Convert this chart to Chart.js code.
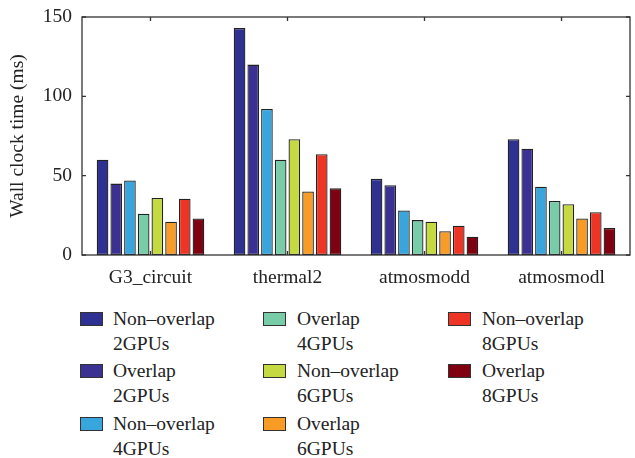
<!DOCTYPE html>
<html>
<head>
<meta charset="utf-8">
<script src="https://cdn.jsdelivr.net/npm/chart.js@4/dist/chart.umd.min.js"></script>
<style>
  html, body { margin: 0; padding: 0; background: #fff; }
  #wrap { position: relative; width: 635px; height: 458px; overflow: hidden; font-family: "Liberation Serif", "Times New Roman", serif; color: #222; }
  #box { position: absolute; left: 0; top: 0; width: 635px; height: 300px; }
  .item { position: absolute; font-size: 19.5px; line-height: 25px; }
  .sw { position: absolute; width: 21px; height: 12px; border: 1px solid #333; }
</style>
</head>
<body>
<div id="wrap">
  <div id="box"><canvas id="WallClockChart"></canvas></div>
  <div id="legend"></div>
</div>
<script>
// matrices and series (ms)
var Matrices = ["G3_circuit", "thermal2", "atmosmodd", "atmosmodl"];
var NonOverlap2 = [60, 143, 48, 73];
var Overlap2    = [45, 120, 44, 67];
var NonOverlap4 = [47, 92, 28, 43];
var Overlap4    = [26, 60, 22, 34];
var NonOverlap6 = [36, 73, 21, 32];
var Overlap6    = [21, 40, 15, 23];
var NonOverlap8 = [35.5, 63.5, 18.5, 27];
var Overlap8    = [23, 42, 11.5, 17];
var SeriesNames = [["Non\u2013overlap", "2GPUs"], ["Overlap", "2GPUs"], ["Non\u2013overlap", "4GPUs"],
                   ["Overlap", "4GPUs"], ["Non\u2013overlap", "6GPUs"], ["Overlap", "6GPUs"],
                   ["Non\u2013overlap", "8GPUs"], ["Overlap", "8GPUs"]];
var YTicks = [0, 50, 100, 150];

var Colours = ['#2e3192', '#3b3192', '#38a6dc', '#79cca8', '#c5da41', '#f89c26', '#ee3425', '#7e0011'];
var SeriesData = [NonOverlap2, Overlap2, NonOverlap4, Overlap4, NonOverlap6, Overlap6, NonOverlap8, Overlap8];

var datasets = [];
for (var i = 0; i < SeriesData.length; i++) {
    datasets.push({
        label: SeriesNames[i].join(' '),
        data: SeriesData[i],
        backgroundColor: Colours[i],
        borderColor: '#222',
        borderWidth: 1.3,
        borderSkipped: false,
        categoryPercentage: 0.8,
        barPercentage: 0.85
    });
}

// frame on top/right and the little inward tick marks
var framePlugin = {
    id: 'frame',
    afterDatasetsDraw: function (chart) {
        var ctx = chart.ctx, a = chart.chartArea;
        var x = chart.scales.x, y = chart.scales.y;
        ctx.save();
        ctx.strokeStyle = '#333';
        ctx.lineWidth = 1.3;
        ctx.strokeRect(a.left, a.top, a.right - a.left, a.bottom - a.top);
        ctx.beginPath();
        y.ticks.forEach(function (t, k) {
            var py = y.getPixelForTick(k);
            ctx.moveTo(a.left, py); ctx.lineTo(a.left + 4, py);
            ctx.moveTo(a.right, py); ctx.lineTo(a.right - 4, py);
        });
        x.ticks.forEach(function (t, k) {
            var px = x.getPixelForTick(k);
            ctx.moveTo(px, a.bottom); ctx.lineTo(px, a.bottom - 4);
            ctx.moveTo(px, a.top); ctx.lineTo(px, a.top + 4);
        });
        ctx.stroke();
        ctx.restore();
    }
};

var canvas = document.getElementById("WallClockChart").getContext('2d');
var myBarChart = new Chart(canvas, {
    type: 'bar',
    data: { labels: Matrices, datasets: datasets },
    plugins: [framePlugin],
    options: {
        responsive: true,
        maintainAspectRatio: false,
        animation: false,
        layout: { padding: { left: 0, top: 17, right: 5, bottom: 0 } },
        plugins: { legend: { display: false }, tooltip: { enabled: false } },
        scales: {
            x: {
                grid: { display: false, drawTicks: false },
                border: { display: false },
                ticks: { color: '#222', padding: 11, font: { family: 'Liberation Serif', size: 19.5 } },
                afterFit: function (s) { s.height = 45; s.paddingLeft = 0; s.paddingRight = 0; }
            },
            y: {
                min: 0, max: 150,
                afterBuildTicks: function (s) { s.ticks = YTicks.map(function (v) { return { value: v }; }); },
                grid: { display: false, drawTicks: false },
                border: { display: false },
                ticks: { color: '#222', padding: 10, font: { family: 'Liberation Serif', size: 19.5 } },
                title: { display: true, text: 'Wall clock time (ms)', color: '#222', padding: { top: 6, bottom: 0 },
                         font: { family: 'Liberation Serif', size: 19.5 } },
                afterFit: function (s) { s.width = 82; s.paddingTop = 0; s.paddingBottom = 0; }
            }
        }
    }
});

// legend laid out column-wise, three entries per column
var legend = document.getElementById('legend');
var colBox = [80, 263, 448], colText = [113, 297, 482];
myBarChart.data.datasets.forEach(function (ds, i) {
    var col = Math.floor(i / 3), row = i % 3;
    var top = 305.5 + row * 52.5;
    var sw = document.createElement('span');
    sw.className = 'sw';
    sw.style.left = colBox[col] + 'px';
    sw.style.top = (top + 6) + 'px';
    sw.style.background = ds.backgroundColor;
    legend.appendChild(sw);
    var tx = document.createElement('div');
    tx.className = 'item';
    tx.style.left = colText[col] + 'px';
    tx.style.top = top + 'px';
    tx.innerHTML = SeriesNames[i][0] + '<br>' + SeriesNames[i][1];
    legend.appendChild(tx);
});
</script>
</body>
</html>
